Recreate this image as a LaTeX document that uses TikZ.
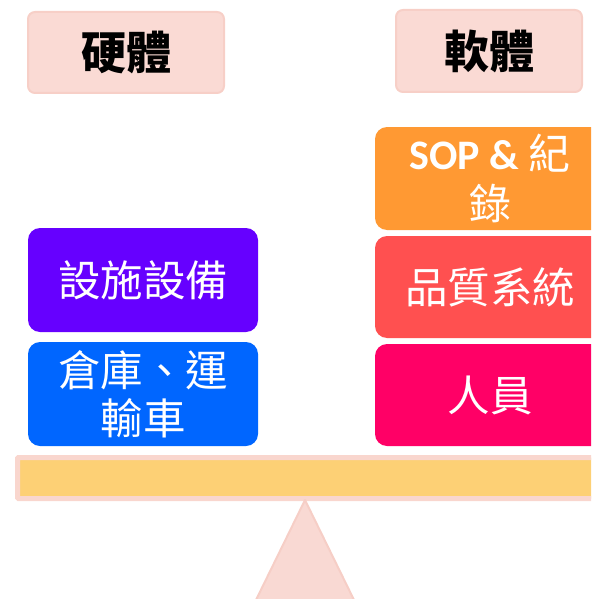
\documentclass[tikz,border=0pt]{standalone}
\usepackage{fontspec}
\newfontfamily\cjk{Noto Sans CJK TC}
\newfontfamily\latb{Carlito}
\definecolor{labelfill}{HTML}{FADAD4}
\definecolor{labelborder}{HTML}{F7CFC7}
\definecolor{cpurple}{HTML}{6600FF}
\definecolor{cblue}{HTML}{0066FF}
\definecolor{corange}{HTML}{FF9933}
\definecolor{cred}{HTML}{FF5050}
\definecolor{cmagenta}{HTML}{FF0066}
\definecolor{beamfill}{HTML}{FDD075}
\definecolor{beamborder}{HTML}{F9D6CE}
\definecolor{trifill}{HTML}{F9D9D3}
\definecolor{triborder}{HTML}{F6CEC6}
\begin{document}
\begin{tikzpicture}[x=1pt,y=-1pt,
  labelbox/.style={draw=labelborder, fill=labelfill, line width=2pt, rounded corners=7pt,
    inner sep=0pt, font=\cjk\bfseries\fontsize{45}{48}\selectfont},
  itembox/.style={rounded corners=12pt, inner sep=0pt, text=white, minimum width=230pt,
    font=\cjk\fontsize{42.5}{45}\selectfont, align=center}]
\useasboundingbox (0,0) rectangle (591,599);
\clip (0,0) rectangle (591,599);
% headers
\node[labelbox, minimum width=196pt, minimum height=81pt] (hw) at (126,52.5) {硬體};
\node[labelbox, minimum width=186pt, minimum height=82pt] (sw) at (489,51) {軟體};
% left stack
\node[itembox, fill=cpurple, minimum height=104pt] (fac) at (143,280) {\raisebox{1pt}{設施設備}};
\node[itembox, fill=cblue, minimum height=104pt] (wh) at (143,394) {\raisebox{3pt}{倉庫、運}\\輸車};
% right stack
\node[itembox, fill=corange, minimum height=103pt, font=\cjk\fontsize{42}{50}\selectfont] (sop) at (490,178.5) {{\latb\bfseries SOP \&} 紀\\錄};
\node[itembox, fill=cred, minimum height=102pt] (qs) at (490,287) {品質系統};
\node[itembox, fill=cmagenta, minimum height=102pt] (ppl) at (490,395) {人員};
% beam
\draw[line width=5pt, draw=beamborder, fill=beamfill, rounded corners=1pt] (17.5,457.5) rectangle (620,498.5);
% fulcrum
\filldraw[fill=trifill, draw=triborder, line width=2pt, line join=round] (305,500) -- (356,604) -- (254,604) -- cycle;
\end{tikzpicture}
\end{document}
